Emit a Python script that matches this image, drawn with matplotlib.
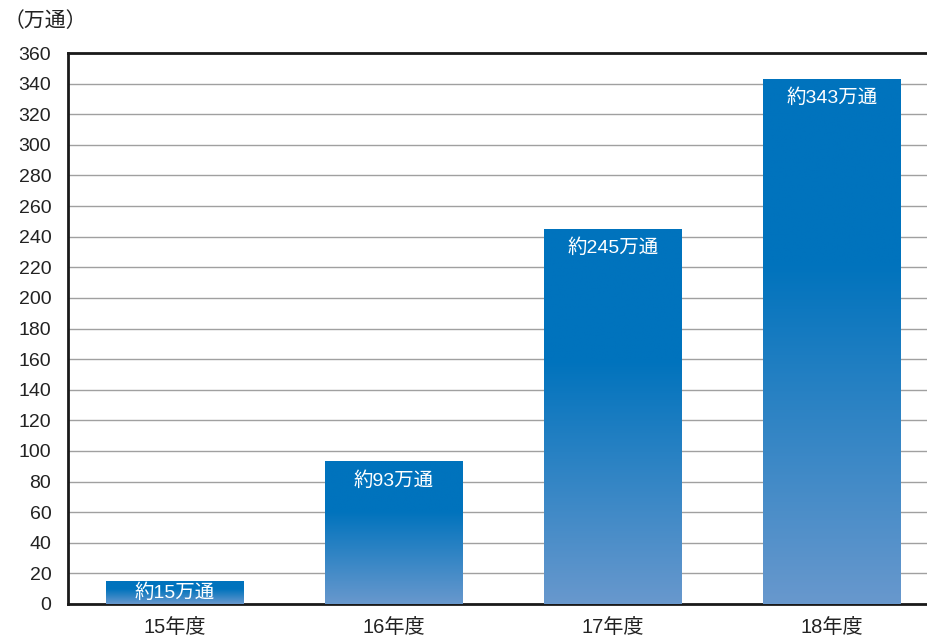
import numpy as np
import matplotlib
matplotlib.use("Agg")
import matplotlib.pyplot as plt
from matplotlib.colors import to_rgb

plt.rcParams['font.family'] = ['Liberation Sans', 'Noto Sans CJK JP', 'DejaVu Sans']

categories = ["15年度", "16年度", "17年度", "18年度"]
values = [15, 93, 245, 343]
labels = ["約15万通", "約93万通", "約245万通", "約343万通"]
unit_label = "（万通）"

W, H, DPI = 927, 636, 100
fig = plt.figure(figsize=(W / DPI, H / DPI), dpi=DPI)
ax = fig.add_axes([68 / W, 1 - 604 / H, (W - 68) / W, (604 - 53) / H])

x = np.arange(len(categories))
bar_w = 0.626
ax.set_xlim(-0.486, 3.434)
ax.set_ylim(0, 360)

# vertical gradient: solid blue at the top, lightening toward the base
top_c = np.array(to_rgb("#0073bd"))
bot_c = np.array(to_rgb("#6898cd"))
n = 256
t = np.linspace(0, 1, n)  # 0 = top, 1 = bottom
f = np.clip((t - 0.35) / 0.65, 0, 1)[:, None]
grad = top_c * (1 - f) + bot_c * f
grad_img = grad[:, None, :]

for xi, v in zip(x, values):
    ax.imshow(grad_img, extent=(xi - bar_w / 2, xi + bar_w / 2, 0, v),
              aspect='auto', zorder=3, interpolation='bilinear')

for xi, v, lab in zip(x, values, labels):
    off = -7 if v > 30 else -1.5
    ax.annotate(lab, (xi, v), xytext=(0, off), textcoords='offset points',
                ha='center', va='top', color='white', fontsize=14, zorder=4)

ax.set_yticks(np.arange(0, 361, 20))
ax.set_xticks(x)
ax.set_xticklabels(categories)
ax.tick_params(axis='y', length=0, labelsize=14, colors='#222222', pad=12)
ax.tick_params(axis='x', length=0, labelsize=14.5, colors='#222222', pad=10)
ax.grid(axis='y', color='#a0a0a0', linewidth=1.0, zorder=1)
ax.set_axisbelow(True)

for s in ['left', 'top', 'bottom']:
    ax.spines[s].set_linewidth(2.0)
    ax.spines[s].set_color('#1a1a1a')
ax.spines['right'].set_visible(False)

fig.text(4 / W, 1 - 21 / H, unit_label, fontsize=15, va='center', ha='left', color='#222222')

fig.savefig("out.png", dpi=DPI)
